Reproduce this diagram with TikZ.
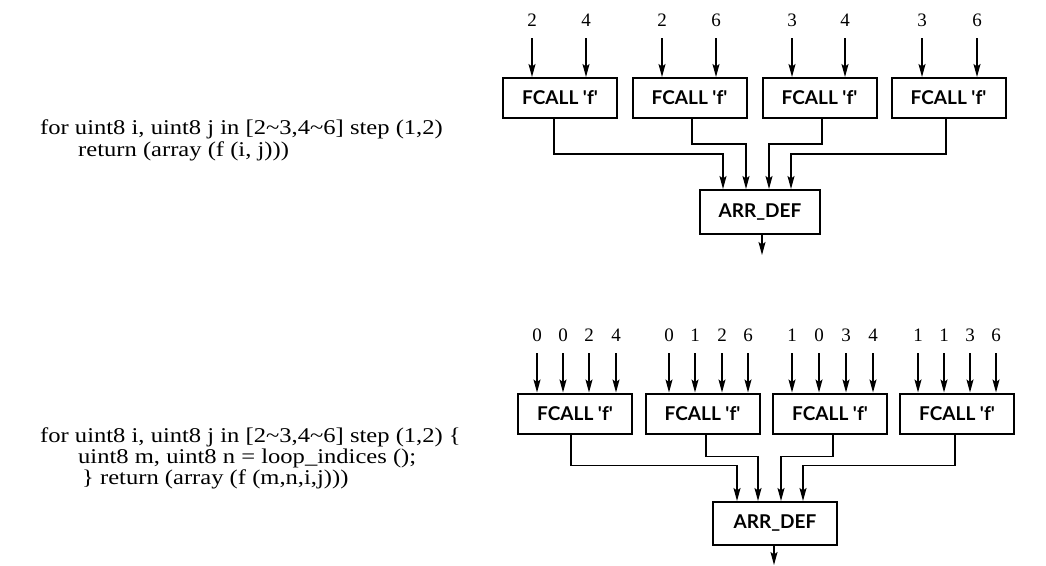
\documentclass[tikz,border=0pt]{standalone}
\usepackage{fontspec}
\setmainfont{Liberation Serif}
\newfontfamily\codefont{Liberation Serif}[FakeStretch=1.17]
\newfontfamily\boxfont{Lato}
\usetikzlibrary{arrows.meta}
\begin{document}
\begin{tikzpicture}[x=1pt,y=-1pt,
 arr/.style={line width=1.5pt,-{Stealth[length=13pt,width=7pt,inset=2.5pt]}},
 fbox/.style={draw,line width=2pt,minimum width=114pt,minimum height=40pt,inner sep=0pt,font=\boxfont\bfseries\fontsize{19}{22}\selectfont},
 abox/.style={fbox,minimum width=120pt,minimum height=44pt},
 num/.style={font=\fontsize{19}{20}\selectfont,inner sep=0pt},
 code/.style={font=\codefont\fontsize{21}{22}\selectfont,anchor=base west,inner sep=0pt}]
\useasboundingbox (0,0) rectangle (1046,565);

% ---------- top code ----------
\node[code] (c1) at (40,134) {for uint8 i, uint8 j in [2\textasciitilde3,4\textasciitilde6] step (1,2)};
\node[code] (c2) at (78,156) {return (array (f (i, j)))};

% ---------- top diagram ----------
\node[fbox] (b1) at (560,98) {FCALL 'f'};
\node[fbox] (b2) at (689.5,98) {FCALL 'f'};
\node[fbox] (b3) at (819.5,98) {FCALL 'f'};
\node[fbox] (b4) at (948.5,98) {FCALL 'f'};
\node[abox] (ad) at (760,212) {ARR\_DEF};

\foreach \x/\t/\b [count=\i] in {532/2/b1,586/4/b1,662/2/b2,716/6/b2,792/3/b3,845/4/b3,922/3/b4,977/6/b4}{
  \node[num] (n\i) at (\x,20) {\t};
  \coordinate (s\i) at (\x,38);
  \draw[arr] (s\i) -- (s\i |- \b.north);
}

\coordinate (i1) at ([xshift=-37pt]ad.north);
\coordinate (i2) at ([xshift=-14pt]ad.north);
\coordinate (i3) at ([xshift=9pt]ad.north);
\coordinate (i4) at ([xshift=31pt]ad.north);
\draw[arr] ([xshift=-6pt]b1.south) -- ++(0,35) -| (i1);
\draw[arr] ([xshift=2.5pt]b2.south) -- ++(0,25) -| (i2);
\draw[arr] ([xshift=2.5pt]b3.south) -- ++(0,25) -| (i3);
\draw[arr] ([xshift=-2.5pt]b4.south) -- ++(0,35) -| (i4);
\coordinate (o1) at (762,255);
\draw[arr] (ad.south -| o1) -- (o1);

% ---------- bottom code ----------
\node[code] (d1) at (40,442) {for uint8 i, uint8 j in [2\textasciitilde3,4\textasciitilde6] step (1,2) \{};
\node[code] (d2) at (78,463) {uint8 m, uint8 n = loop\_indices ();};
\node[code] (d3) at (82,484) {\} return (array (f (m,n,i,j)))};

% ---------- bottom diagram ----------
\node[fbox] (e1) at (575,413.5) {FCALL 'f'};
\node[fbox] (e2) at (702.5,413.5) {FCALL 'f'};
\node[fbox] (e3) at (830,413.5) {FCALL 'f'};
\node[fbox] (e4) at (957,413.5) {FCALL 'f'};
\node[abox,minimum width=124pt,minimum height=43pt] (ae) at (775,523.5) {ARR\_DEF};

\foreach \x/\t/\b [count=\i] in {537/0/e1,563/0/e1,589/2/e1,616/4/e1,
  669/0/e2,695/1/e2,722/2/e2,748/6/e2,
  792/1/e3,819/0/e3,846/3/e3,873/4/e3,
  918/1/e4,944/1/e4,970/3/e4,996/6/e4}{
  \node[num] (m\i) at (\x,335) {\t};
  \coordinate (u\i) at (\x,353);
  \draw[arr] (u\i) -- (u\i |- \b.north);
}

\coordinate (j1) at ([xshift=-38pt]ae.north);
\coordinate (j2) at ([xshift=-17pt]ae.north);
\coordinate (j3) at ([xshift=6pt]ae.north);
\coordinate (j4) at ([xshift=28pt]ae.north);
\draw[arr] ([xshift=-4pt]e1.south) -- ++(0,31) -| (j1);
\draw[arr] ([xshift=3.5pt]e2.south) -- ++(0,22) -| (j2);
\draw[arr] ([xshift=3pt]e3.south) -- ++(0,22) -| (j3);
\draw[arr] ([xshift=-2pt]e4.south) -- ++(0,31) -| (j4);
\coordinate (o2) at (774,565);
\draw[arr] (ae.south -| o2) -- (o2);
\end{tikzpicture}
\end{document}
